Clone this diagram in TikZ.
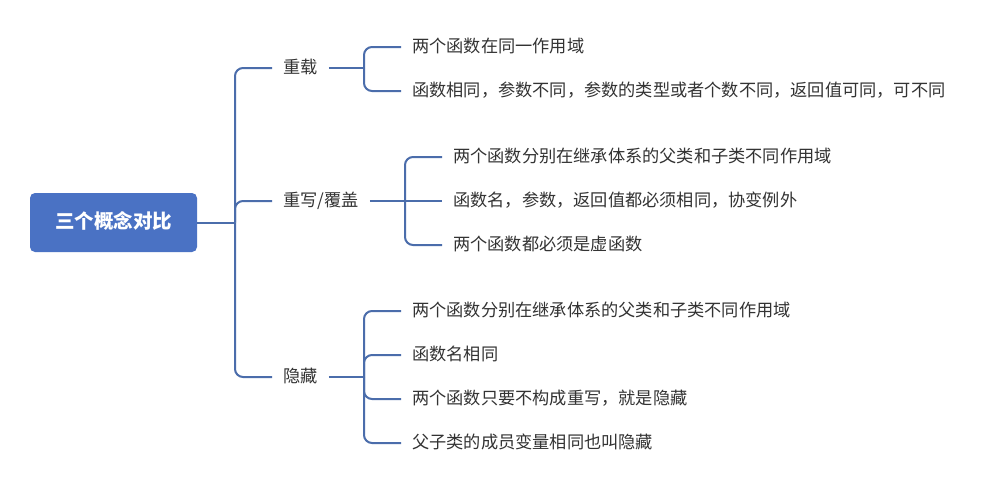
\documentclass[tikz,border=0pt]{standalone}
\usepackage{fontspec}
\setmainfont{Noto Sans CJK SC}
\definecolor{rootblue}{HTML}{4A72C4}
\definecolor{linecol}{HTML}{4B6DAB}
\definecolor{txt}{HTML}{333333}
\begin{document}
\begin{tikzpicture}[x=1pt,y=-1pt,
  conn/.style={draw=linecol,line width=2pt},
  elbow/.style={conn,rounded corners=8pt},
  leaf/.style={anchor=west,inner xsep=11pt,inner ysep=0pt,text height=1.2em,text depth=0.04em,
    font=\fontsize{17.2}{20}\selectfont,text=txt},
  rootbox/.style={rectangle,rounded corners=5pt,fill=rootblue,minimum width=167pt,minimum height=59pt,
    inner sep=0pt,text height=1.16em,text depth=0.04em,text=white,font=\fontsize{19.5}{22}\selectfont\bfseries}]
\useasboundingbox[fill=white] (0,0) rectangle (987,490);
\node[rootbox] (root) at (113.5,222.5) {三个概念对比};
\coordinate (j0) at (235,222.5);
\node[leaf] (b1) at (272,68) {重载};
\node[leaf] (b2) at (272,201) {重写/覆盖};
\node[leaf] (b3) at (272,377) {隐藏};
\draw[conn] (root.east) -- (j0);
\draw[elbow] (j0) |- (b1.west);
\draw[elbow] (j0) |- (b2.west);
\draw[elbow] (j0) |- (b3.west);
% 重载
\coordinate (j1) at (364,68);
\node[leaf] (c11) at (401,47) {两个函数在同一作用域};
\node[leaf] (c12) at (401,91) {函数相同，参数不同，参数的类型或者个数不同，返回值可同，可不同};
\draw[conn] (b1.east) -- (j1);
\draw[elbow] (j1) |- (c11.west);
\draw[elbow] (j1) |- (c12.west);
% 重写
\coordinate (j2) at (405,201);
\node[leaf] (c21) at (442,157) {两个函数分别在继承体系的父类和子类不同作用域};
\node[leaf] (c22) at (442,201) {函数名，参数，返回值都必须相同，协变例外};
\node[leaf] (c23) at (442,245) {两个函数都必须是虚函数};
\draw[conn] (b2.east) -- (j2);
\draw[elbow] (j2) |- (c21.west);
\draw[conn] (j2) -- (c22.west);
\draw[elbow] (j2) |- (c23.west);
% 隐藏
\coordinate (j3) at (364,377);
\node[leaf] (c31) at (401,311) {两个函数分别在继承体系的父类和子类不同作用域};
\node[leaf] (c32) at (401,355) {函数名相同};
\node[leaf] (c33) at (401,399) {两个函数只要不构成重写，就是隐藏};
\node[leaf] (c34) at (401,443) {父子类的成员变量相同也叫隐藏};
\draw[conn] (b3.east) -- (j3);
\draw[elbow] (j3) |- (c31.west);
\draw[elbow] (j3) |- (c32.west);
\draw[elbow] (j3) |- (c33.west);
\draw[elbow] (j3) |- (c34.west);
\end{tikzpicture}
\end{document}
